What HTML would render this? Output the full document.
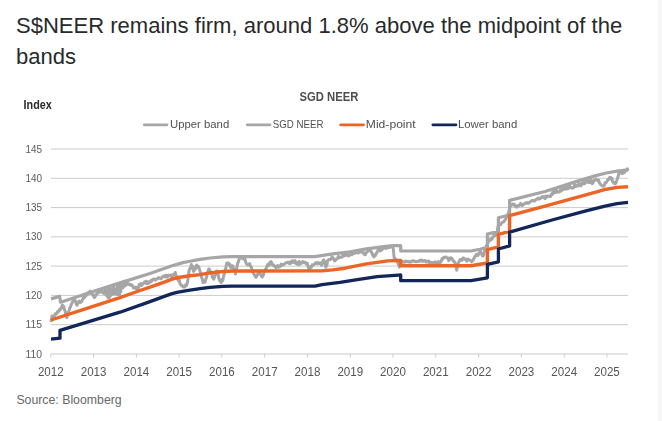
<!DOCTYPE html>
<html><head><meta charset="utf-8">
<style>
html,body{margin:0;padding:0;background:#fff;}
body{width:662px;height:421px;overflow:hidden;position:relative;font-family:"Liberation Sans",sans-serif;}
.title{position:absolute;left:16px;top:10px;width:630px;font-size:22.04px;line-height:31px;color:#282a2c;letter-spacing:0px;}
.src{position:absolute;left:16.4px;top:393px;font-size:12.3px;color:#686868;}
.strip{position:absolute;left:658px;top:0;width:4px;height:421px;background:#f7f7f7;}
svg{position:absolute;left:0;top:0;filter:blur(0.4px);}
.yl{font-size:10.5px;fill:#5c5c5c;}
.xl{font-size:12px;fill:#555;}
.lg{font-size:10.3px;fill:#505050;}
.ct{font-size:12.9px;font-weight:bold;fill:#4d4d4d;}
.ix{font-size:12.4px;font-weight:bold;fill:#2a2a2a;}
</style></head><body>
<div class="title">S$NEER remains firm, around 1.8% above the midpoint of the<br>bands</div>
<div class="strip"></div>
<svg width="662" height="421" viewBox="0 0 662 421">
<line x1="51" x2="628" y1="354.0" y2="354.0" stroke="#cbcbcb" stroke-width="1"/>
<line x1="51" x2="628" y1="324.7" y2="324.7" stroke="#cbcbcb" stroke-width="1"/>
<line x1="51" x2="628" y1="295.4" y2="295.4" stroke="#cbcbcb" stroke-width="1"/>
<line x1="51" x2="628" y1="266.1" y2="266.1" stroke="#cbcbcb" stroke-width="1"/>
<line x1="51" x2="628" y1="236.9" y2="236.9" stroke="#cbcbcb" stroke-width="1"/>
<line x1="51" x2="628" y1="207.6" y2="207.6" stroke="#cbcbcb" stroke-width="1"/>
<line x1="51" x2="628" y1="178.3" y2="178.3" stroke="#cbcbcb" stroke-width="1"/>
<line x1="51" x2="628" y1="149.0" y2="149.0" stroke="#cbcbcb" stroke-width="1"/>
<line x1="50.8" x2="50.8" y1="354" y2="357.5" stroke="#cbcbcb" stroke-width="1"/>
<line x1="93.6" x2="93.6" y1="354" y2="357.5" stroke="#cbcbcb" stroke-width="1"/>
<line x1="136.4" x2="136.4" y1="354" y2="357.5" stroke="#cbcbcb" stroke-width="1"/>
<line x1="179.1" x2="179.1" y1="354" y2="357.5" stroke="#cbcbcb" stroke-width="1"/>
<line x1="221.9" x2="221.9" y1="354" y2="357.5" stroke="#cbcbcb" stroke-width="1"/>
<line x1="264.7" x2="264.7" y1="354" y2="357.5" stroke="#cbcbcb" stroke-width="1"/>
<line x1="307.5" x2="307.5" y1="354" y2="357.5" stroke="#cbcbcb" stroke-width="1"/>
<line x1="350.3" x2="350.3" y1="354" y2="357.5" stroke="#cbcbcb" stroke-width="1"/>
<line x1="393.0" x2="393.0" y1="354" y2="357.5" stroke="#cbcbcb" stroke-width="1"/>
<line x1="435.8" x2="435.8" y1="354" y2="357.5" stroke="#cbcbcb" stroke-width="1"/>
<line x1="478.6" x2="478.6" y1="354" y2="357.5" stroke="#cbcbcb" stroke-width="1"/>
<line x1="521.4" x2="521.4" y1="354" y2="357.5" stroke="#cbcbcb" stroke-width="1"/>
<line x1="564.2" x2="564.2" y1="354" y2="357.5" stroke="#cbcbcb" stroke-width="1"/>
<line x1="606.9" x2="606.9" y1="354" y2="357.5" stroke="#cbcbcb" stroke-width="1"/>

<text x="23.6" y="108.8" class="ix" textLength="28.2" lengthAdjust="spacingAndGlyphs">Index</text>
<text x="299.6" y="100.8" class="ct" textLength="58.8" lengthAdjust="spacingAndGlyphs">SGD NEER</text>
<g stroke-width="2.7" stroke-linecap="round">
<line x1="144.2" x2="167" y1="124.8" y2="124.8" stroke="#a6a6a6"/>
<line x1="247.2" x2="270" y1="124.8" y2="124.8" stroke="#a6a6a6"/>
<line x1="340.6" x2="363.6" y1="124.8" y2="124.8" stroke="#ec6426"/>
<line x1="432.8" x2="456" y1="124.8" y2="124.8" stroke="#12265a"/>
</g>
<text x="170" y="128" class="lg" textLength="59.2" lengthAdjust="spacingAndGlyphs">Upper band</text>
<text x="272.7" y="128" class="lg" textLength="50.8" lengthAdjust="spacingAndGlyphs">SGD NEER</text>
<text x="365.8" y="128" class="lg" textLength="49.9" lengthAdjust="spacingAndGlyphs">Mid-point</text>
<text x="458" y="128" class="lg" textLength="59.2" lengthAdjust="spacingAndGlyphs">Lower band</text>
<text x="25.5" y="357.5" class="yl" textLength="16.6" lengthAdjust="spacingAndGlyphs">110</text>
<text x="25.5" y="328.2" class="yl" textLength="16.6" lengthAdjust="spacingAndGlyphs">115</text>
<text x="25.5" y="298.9" class="yl" textLength="16.6" lengthAdjust="spacingAndGlyphs">120</text>
<text x="25.5" y="269.6" class="yl" textLength="16.6" lengthAdjust="spacingAndGlyphs">125</text>
<text x="25.5" y="240.4" class="yl" textLength="16.6" lengthAdjust="spacingAndGlyphs">130</text>
<text x="25.5" y="211.1" class="yl" textLength="16.6" lengthAdjust="spacingAndGlyphs">135</text>
<text x="25.5" y="181.8" class="yl" textLength="16.6" lengthAdjust="spacingAndGlyphs">140</text>
<text x="25.5" y="152.5" class="yl" textLength="16.6" lengthAdjust="spacingAndGlyphs">145</text>
<text x="50.8" y="375.9" text-anchor="middle" class="xl" textLength="25.8" lengthAdjust="spacingAndGlyphs">2012</text>
<text x="93.6" y="375.9" text-anchor="middle" class="xl" textLength="25.8" lengthAdjust="spacingAndGlyphs">2013</text>
<text x="136.4" y="375.9" text-anchor="middle" class="xl" textLength="25.8" lengthAdjust="spacingAndGlyphs">2014</text>
<text x="179.1" y="375.9" text-anchor="middle" class="xl" textLength="25.8" lengthAdjust="spacingAndGlyphs">2015</text>
<text x="221.9" y="375.9" text-anchor="middle" class="xl" textLength="25.8" lengthAdjust="spacingAndGlyphs">2016</text>
<text x="264.7" y="375.9" text-anchor="middle" class="xl" textLength="25.8" lengthAdjust="spacingAndGlyphs">2017</text>
<text x="307.5" y="375.9" text-anchor="middle" class="xl" textLength="25.8" lengthAdjust="spacingAndGlyphs">2018</text>
<text x="350.3" y="375.9" text-anchor="middle" class="xl" textLength="25.8" lengthAdjust="spacingAndGlyphs">2019</text>
<text x="393.0" y="375.9" text-anchor="middle" class="xl" textLength="25.8" lengthAdjust="spacingAndGlyphs">2020</text>
<text x="435.8" y="375.9" text-anchor="middle" class="xl" textLength="25.8" lengthAdjust="spacingAndGlyphs">2021</text>
<text x="478.6" y="375.9" text-anchor="middle" class="xl" textLength="25.8" lengthAdjust="spacingAndGlyphs">2022</text>
<text x="521.4" y="375.9" text-anchor="middle" class="xl" textLength="25.8" lengthAdjust="spacingAndGlyphs">2023</text>
<text x="564.2" y="375.9" text-anchor="middle" class="xl" textLength="25.8" lengthAdjust="spacingAndGlyphs">2024</text>
<text x="606.9" y="375.9" text-anchor="middle" class="xl" textLength="25.8" lengthAdjust="spacingAndGlyphs">2025</text>

<g fill="none" stroke-linejoin="round" stroke-linecap="butt">
<path d="M51.0,298.9 L59.6,296.4 L60.6,302.2 L96.0,290.4 L120.0,282.9 L150.0,273.5 L172.1,265.7 L182.8,262.6 L190.0,261.2 L200.0,259.4 L210.0,258.0 L223.0,256.8 L232.0,256.6 L314.6,256.6 L332.8,253.9 L350.0,251.8 L366.4,248.9 L387.8,246.2 L394.0,245.7 L400.7,245.7 L400.7,251.0 L471.0,251.0 L480.0,249.3 L487.4,247.4 L487.4,234.1 L498.4,231.4 L498.4,217.8 L509.6,215.0 L509.6,200.4 L545.0,191.5 L580.0,180.4 L595.7,175.6 L606.4,173.0 L617.1,171.1 L628.0,169.8" stroke="#a6a6a6" stroke-width="3.2"/>
<path d="M51.0,322.0 L52.0,316.0 L52.8,317.1 L53.5,318.0 L54.2,316.6 L55.0,314.0 L55.7,313.8 L56.3,314.1 L57.0,313.0 L57.7,311.5 L58.3,312.0 L59.0,311.0 L59.7,309.3 L60.3,309.8 L61.0,308.0 L61.7,307.9 L62.3,304.9 L63.0,306.0 L63.8,306.3 L64.5,310.0 L65.3,311.4 L66.0,315.8 L66.8,317.6 L67.7,314.2 L68.5,312.0 L69.2,310.2 L69.8,307.7 L70.5,307.0 L71.3,304.4 L72.2,302.6 L72.8,301.2 L73.5,300.5 L74.2,300.4 L74.8,300.0 L75.5,301.5 L76.3,304.1 L77.0,305.3 L77.7,303.9 L78.3,303.0 L79.0,301.0 L79.7,301.8 L80.5,302.4 L81.2,302.0 L82.1,300.4 L82.9,298.9 L83.6,296.8 L84.2,297.7 L84.8,297.2 L85.5,295.7 L86.1,295.8 L86.8,294.5 L87.4,294.5 L88.1,292.8 L88.7,293.5 L89.3,292.6 L90.0,291.0 L90.8,292.1 L91.6,293.7 L92.3,293.6 L93.0,295.5 L93.6,295.0 L94.3,297.6 L94.9,297.0 L95.6,295.5 L96.1,295.3 L96.6,293.7 L97.3,291.8 L97.9,293.2 L98.6,292.6 L99.3,291.7 L100.0,290.8 L100.7,292.0 L101.4,289.5 L102.1,292.3 L102.8,291.7 L103.6,293.2 L104.4,292.3 L104.6,292.2 L105.2,290.1 L105.8,295.1 L106.5,290.9 L107.1,296.2 L107.7,288.1 L108.3,298.1 L108.9,292.2 L109.6,297.2 L110.2,288.3 L110.8,295.4 L111.4,289.1 L112.0,294.5 L112.7,288.6 L113.3,293.9 L113.9,286.5 L114.5,293.2 L115.1,289.7 L115.8,293.9 L116.4,289.1 L117.0,294.2 L117.6,285.1 L118.2,294.5 L118.9,288.0 L119.5,294.7 L120.1,284.1 L120.7,291.9 L121.3,285.4 L122.0,282.8 L122.6,288.0 L123.4,287.0 L124.2,286.4 L124.9,283.9 L125.7,285.4 L126.4,284.8 L127.2,283.2 L128.0,283.7 L128.8,284.5 L129.6,284.0 L130.4,285.3 L131.2,284.8 L132.0,285.0 L132.8,286.4 L133.6,288.0 L134.4,287.7 L135.2,287.1 L136.0,288.7 L136.6,287.2 L137.3,289.4 L138.0,288.2 L138.7,287.5 L139.3,284.2 L140.0,284.9 L140.8,283.7 L141.6,285.5 L142.4,283.8 L143.2,283.9 L143.9,283.4 L144.6,281.7 L145.3,283.0 L146.1,281.2 L146.8,283.8 L147.5,283.3 L148.2,281.7 L148.9,283.1 L149.6,281.7 L150.3,282.2 L151.1,280.4 L151.8,281.2 L152.6,279.5 L153.4,279.1 L154.2,279.1 L155.0,280.1 L155.7,279.7 L156.4,279.2 L157.1,279.1 L157.9,278.0 L158.7,277.7 L159.5,277.9 L160.3,278.5 L161.1,278.8 L161.9,277.5 L162.6,276.6 L163.4,276.0 L164.1,276.4 L164.8,276.7 L165.5,275.4 L166.2,276.9 L166.8,275.4 L167.4,277.1 L168.0,275.9 L168.7,275.1 L169.4,275.3 L170.2,275.4 L171.0,276.4 L171.6,274.9 L172.1,277.5 L172.7,275.3 L173.4,274.8 L174.1,273.9 L174.8,273.7 L175.3,272.5 L175.8,275.3 L176.4,276.4 L176.9,278.0 L177.7,279.2 L178.5,280.7 L179.3,280.4 L180.1,283.9 L180.9,284.7 L181.7,286.0 L182.5,285.6 L183.3,287.1 L184.1,287.0 L184.9,286.9 L185.7,284.8 L186.5,285.5 L187.1,283.7 L187.6,281.7 L188.3,276.4 L189.2,270.0 L189.7,269.1 L190.3,267.8 L190.7,268.2 L191.3,264.6 L192.0,266.6 L192.7,266.4 L193.4,271.4 L194.1,270.6 L194.8,269.8 L195.4,269.1 L196.0,266.0 L196.8,265.0 L197.6,267.6 L198.2,266.3 L198.7,266.9 L199.5,269.3 L200.3,272.5 L200.9,273.3 L201.4,277.3 L202.2,278.6 L203.0,282.6 L203.7,280.9 L204.4,280.9 L205.1,282.1 L205.9,279.0 L206.7,276.7 L207.4,272.5 L208.0,271.4 L208.7,269.0 L209.4,269.3 L210.2,271.5 L211.0,273.0 L211.7,272.4 L212.3,277.3 L213.0,277.7 L213.7,279.1 L214.5,277.1 L215.3,274.6 L216.1,271.2 L216.9,270.9 L217.6,271.3 L218.3,275.7 L219.0,278.8 L219.8,281.0 L220.5,280.0 L221.2,282.6 L222.0,279.5 L222.8,280.5 L223.6,276.0 L224.4,273.5 L225.2,270.4 L226.0,267.1 L226.8,263.1 L227.6,263.9 L228.4,262.9 L229.2,265.0 L229.9,264.4 L230.6,267.4 L231.3,267.6 L232.1,265.8 L232.9,266.0 L233.6,268.9 L234.3,270.3 L234.9,270.0 L235.4,274.1 L236.0,269.9 L236.7,268.2 L237.2,265.4 L237.8,262.8 L238.3,262.2 L238.8,260.2 L239.6,258.4 L240.3,258.4 L241.1,256.7 L241.8,256.3 L242.5,258.4 L243.3,258.3 L244.1,259.4 L244.9,259.0 L245.7,262.1 L246.5,263.9 L247.3,264.8 L248.1,265.1 L248.9,264.3 L249.7,263.5 L250.5,266.4 L251.3,266.8 L252.1,270.1 L252.9,272.4 L253.7,273.9 L254.5,275.1 L255.3,276.6 L255.9,277.3 L256.4,277.1 L257.0,274.8 L257.7,274.9 L258.4,272.1 L259.1,273.3 L259.9,272.7 L260.7,274.9 L261.5,276.4 L262.3,277.0 L262.8,274.7 L263.3,275.4 L263.9,272.3 L264.4,271.7 L265.2,269.6 L266.0,269.5 L266.6,267.0 L267.1,266.3 L267.7,264.5 L268.4,264.7 L269.0,265.5 L269.7,262.6 L270.3,264.4 L271.1,261.6 L271.9,263.6 L272.7,265.1 L273.5,264.7 L274.3,266.2 L275.1,266.3 L275.9,267.7 L276.7,266.9 L277.4,265.6 L278.1,267.1 L278.9,265.8 L279.7,266.9 L280.5,266.3 L281.3,264.1 L282.1,265.3 L282.9,264.9 L283.7,264.2 L284.5,264.2 L285.3,263.1 L286.1,262.8 L286.9,262.6 L287.7,262.2 L288.5,263.1 L289.3,262.0 L290.1,263.6 L290.9,261.9 L291.7,262.6 L292.5,260.7 L293.3,262.0 L294.3,262.6 L295.0,260.7 L295.7,263.0 L296.4,263.7 L297.1,262.4 L297.8,264.5 L298.6,264.2 L299.3,261.5 L300.0,264.3 L300.7,263.1 L301.4,262.6 L302.1,262.9 L302.8,261.5 L303.5,262.5 L304.3,262.7 L305.0,262.1 L305.8,262.7 L306.6,264.2 L307.4,263.4 L308.2,267.4 L309.0,268.5 L309.8,269.2 L310.6,266.5 L311.4,267.4 L312.2,264.9 L313.0,265.3 L313.8,264.7 L314.6,264.2 L315.3,263.3 L316.0,262.5 L316.7,263.1 L317.5,263.8 L318.3,262.6 L319.1,262.9 L319.9,263.7 L320.7,263.2 L321.6,265.3 L322.1,261.8 L322.6,261.4 L323.2,261.2 L323.7,259.8 L324.2,260.9 L324.8,263.5 L325.3,265.8 L325.8,267.3 L326.4,265.0 L326.9,265.1 L327.4,261.0 L328.0,260.3 L328.8,259.5 L329.6,259.8 L330.4,259.6 L331.2,258.7 L332.0,256.9 L332.8,257.6 L333.3,258.7 L333.9,259.3 L334.4,260.6 L334.9,260.9 L335.5,260.4 L336.0,259.3 L336.8,259.1 L337.6,258.2 L338.4,256.2 L339.2,257.6 L340.0,257.2 L340.8,257.1 L341.6,257.3 L342.4,256.6 L343.2,254.7 L344.0,256.0 L344.8,254.8 L345.6,255.5 L346.4,254.2 L347.2,255.0 L347.9,255.1 L348.6,256.0 L349.5,254.8 L350.3,254.8 L351.1,254.1 L351.8,254.7 L352.5,254.3 L353.2,252.3 L353.9,252.1 L354.6,253.4 L355.3,251.8 L356.1,251.5 L356.8,252.6 L357.5,250.9 L358.2,253.0 L358.9,252.1 L359.6,252.5 L360.3,250.5 L361.0,251.9 L361.8,251.8 L362.6,252.6 L363.3,252.5 L364.0,254.3 L364.7,253.6 L365.3,254.8 L365.9,252.9 L366.4,252.6 L367.2,251.8 L368.0,251.0 L368.8,250.5 L369.6,250.5 L370.4,250.5 L371.2,252.1 L371.9,252.5 L372.6,255.3 L373.2,255.2 L373.9,256.9 L374.5,255.0 L375.2,255.9 L375.9,254.2 L376.6,253.2 L377.1,252.2 L377.6,251.0 L378.3,249.8 L379.0,250.0 L379.7,249.0 L380.3,251.0 L380.9,249.3 L381.6,250.0 L382.3,248.6 L383.0,248.7 L383.8,248.1 L384.6,247.8 L385.4,248.3 L386.2,248.4 L387.0,247.1 L387.8,247.3 L388.6,247.7 L389.4,247.6 L390.2,247.1 L391.0,247.0 L391.8,246.2 L392.6,246.8 L393.3,248.9 L393.8,254.3 L394.2,258.0 L394.7,257.8 L395.3,259.1 L395.8,259.4 L396.3,260.7 L396.9,261.5 L397.4,262.3 L397.9,262.7 L398.5,264.4 L399.3,267.1 L400.1,264.4 L400.6,263.4 L401.1,262.3 L401.9,261.9 L402.7,261.6 L403.5,262.0 L404.3,262.3 L404.9,262.1 L405.6,261.0 L406.2,261.4 L406.8,261.3 L407.5,261.5 L408.1,261.9 L408.8,262.1 L409.4,261.3 L410.1,262.2 L410.7,262.0 L411.3,262.0 L412.0,261.0 L412.6,261.2 L413.3,260.5 L413.9,261.2 L414.5,261.5 L415.2,261.3 L415.8,261.7 L416.5,261.6 L417.1,261.5 L417.8,261.4 L418.4,261.4 L419.0,261.0 L419.7,260.2 L420.3,261.0 L421.0,260.9 L421.6,260.0 L422.2,260.3 L422.9,261.3 L423.5,261.2 L424.2,260.4 L424.8,260.6 L425.5,260.8 L426.1,262.1 L426.7,262.0 L427.4,261.2 L428.0,261.1 L428.7,262.4 L429.3,261.4 L429.9,262.3 L430.6,262.6 L431.2,262.4 L431.9,262.7 L432.5,262.9 L433.2,262.6 L433.8,262.5 L434.4,262.9 L435.1,261.7 L435.7,262.9 L436.4,262.8 L437.0,262.4 L437.6,262.6 L438.3,261.6 L438.9,262.5 L439.6,262.3 L440.4,262.4 L441.2,261.2 L442.0,258.6 L442.8,259.1 L443.6,257.4 L444.4,257.5 L445.2,256.9 L446.0,256.9 L446.8,257.8 L447.6,258.0 L448.1,258.2 L448.7,260.7 L449.2,258.9 L449.7,259.6 L450.4,257.7 L451.1,258.0 L451.8,258.4 L452.4,259.1 L452.9,260.3 L453.5,261.2 L454.0,261.0 L454.5,262.3 L455.1,262.6 L455.6,264.4 L456.1,266.6 L456.7,270.3 L457.2,267.3 L457.8,266.0 L458.3,263.2 L458.8,261.7 L459.3,261.3 L460.0,259.5 L460.7,260.1 L461.4,260.2 L462.1,260.2 L462.8,258.1 L463.6,258.1 L464.4,259.0 L465.2,259.7 L466.0,259.2 L466.8,261.3 L467.6,260.2 L468.4,259.2 L469.2,259.9 L470.0,260.2 L470.8,261.0 L471.6,261.8 L472.4,260.6 L473.2,260.2 L474.0,258.1 L474.8,257.0 L475.6,255.6 L476.4,254.4 L477.2,255.5 L478.0,255.5 L478.8,253.1 L479.6,253.3 L480.4,251.6 L481.2,252.8 L481.9,254.6 L482.6,256.0 L483.1,256.1 L483.7,254.9 L484.2,252.4 L484.7,250.7 L485.3,248.7 L485.8,248.0 L486.6,245.3 L487.1,244.8 L487.6,243.8 L488.2,242.6 L488.7,240.6 L489.2,241.0 L489.8,239.5 L490.3,240.0 L490.8,238.7 L491.4,239.8 L491.9,238.8 L492.4,238.4 L493.0,236.7 L493.5,236.8 L494.1,235.1 L494.8,235.7 L495.5,235.2 L496.2,234.6 L496.7,234.8 L497.2,233.6 L497.9,226.9 L498.7,225.1 L499.5,225.3 L500.3,224.8 L501.1,224.2 L501.9,222.5 L502.7,222.1 L503.5,222.0 L504.3,221.0 L505.1,219.7 L505.9,218.9 L506.4,216.8 L507.0,216.7 L507.5,214.5 L508.0,214.6 L508.9,211.4 L509.6,208.2 L510.2,205.5 L510.7,206.0 L511.3,204.7 L511.8,204.4 L512.6,204.0 L513.4,205.0 L514.2,204.2 L515.0,206.0 L515.8,205.8 L516.6,207.1 L517.4,205.7 L518.2,206.0 L519.0,205.7 L519.8,205.0 L520.6,203.4 L521.4,204.4 L522.2,205.5 L523.0,205.0 L523.8,203.9 L524.6,203.9 L525.4,203.2 L526.2,202.8 L527.0,202.6 L527.8,203.4 L528.6,203.2 L529.4,202.3 L530.2,202.1 L531.0,201.2 L531.8,200.6 L532.6,200.7 L533.4,200.5 L534.2,201.2 L535.0,200.5 L535.9,199.6 L536.7,199.5 L537.5,198.6 L538.3,198.1 L539.1,199.1 L539.9,198.7 L540.7,198.0 L541.5,197.9 L542.3,196.4 L543.1,196.4 L543.9,197.5 L544.4,197.0 L545.0,198.7 L545.8,196.0 L546.6,197.1 L547.4,196.7 L548.2,196.0 L549.0,196.2 L549.8,196.6 L550.6,196.6 L551.4,194.4 L552.1,194.8 L552.8,191.9 L553.6,193.3 L554.3,191.0 L555.0,191.0 L555.7,192.5 L556.4,190.2 L557.1,192.1 L557.8,191.8 L558.5,192.1 L559.3,192.0 L560.0,190.7 L560.7,188.7 L561.4,191.0 L562.1,190.0 L562.8,188.2 L563.5,188.4 L564.3,189.3 L565.0,189.3 L565.7,186.4 L566.4,188.7 L567.1,186.1 L567.8,189.0 L568.5,188.2 L569.2,186.5 L570.0,186.6 L570.7,187.8 L571.5,187.6 L572.3,188.2 L573.1,187.8 L573.9,187.5 L574.6,184.3 L575.3,185.3 L576.0,186.4 L576.7,185.2 L577.4,185.2 L578.2,185.9 L578.9,183.6 L579.6,184.9 L580.3,185.0 L581.0,185.9 L581.7,183.3 L582.4,184.3 L583.1,183.5 L583.9,181.6 L584.6,183.8 L585.0,181.7 L585.7,180.2 L586.4,182.0 L587.1,182.3 L587.9,179.5 L588.6,182.4 L589.3,181.2 L590.0,182.5 L590.7,179.5 L591.4,182.3 L592.2,183.6 L593.0,182.8 L593.8,180.2 L594.6,180.1 L595.4,180.0 L596.2,179.1 L597.0,180.2 L597.8,180.7 L598.6,180.1 L599.4,182.8 L600.2,183.8 L601.0,184.9 L601.8,185.4 L602.6,186.0 L603.4,186.2 L604.3,185.5 L605.1,182.7 L605.9,182.8 L606.7,181.7 L607.5,180.1 L608.3,180.0 L609.1,178.0 L609.6,177.6 L610.1,177.2 L610.7,177.6 L611.2,179.1 L611.9,178.4 L612.6,181.7 L613.2,181.9 L613.9,183.3 L614.5,182.5 L615.2,183.9 L615.7,183.2 L616.2,182.3 L616.8,180.6 L617.3,179.1 L617.8,177.1 L618.4,175.9 L618.9,172.8 L619.4,173.2 L620.1,172.5 L620.8,172.1 L621.6,172.7 L622.4,173.7 L623.1,171.5 L623.7,172.6 L624.4,172.5 L625.1,171.0 L625.9,170.7 L626.7,170.5 L627.4,168.9 L628.0,171.0" stroke="#a6a6a6" stroke-width="3.0"/>
<path d="M51.0,320.0 L90.0,307.4 L120.0,297.6 L140.0,290.5 L150.0,287.2 L165.0,281.8 L172.1,279.2 L178.0,277.5 L190.0,275.7 L200.0,274.6 L210.0,272.9 L223.0,271.5 L232.0,271.0 L322.0,270.9 L332.8,269.9 L345.0,268.2 L366.4,263.9 L387.8,260.9 L398.5,260.5 L400.7,260.4 L400.7,265.7 L471.0,265.7 L480.0,264.2 L487.4,262.8 L487.4,249.6 L498.4,246.9 L498.4,234.4 L509.6,231.4 L509.6,215.7 L545.0,206.2 L585.0,195.1 L606.4,189.2 L617.1,187.4 L628.0,186.8" stroke="#ec6426" stroke-width="3.4"/>
<path d="M51.0,339.2 L60.0,338.2 L60.0,330.4 L120.0,312.2 L150.0,301.6 L165.0,296.1 L172.1,293.6 L178.0,292.1 L190.0,290.2 L200.0,288.7 L210.0,287.4 L223.0,286.3 L232.0,286.1 L315.0,286.1 L322.0,284.6 L340.0,282.4 L355.7,279.9 L377.1,276.7 L398.5,275.1 L400.7,275.0 L400.7,280.7 L471.0,280.7 L480.0,279.1 L487.4,277.8 L487.4,264.4 L498.4,261.9 L498.4,249.0 L509.6,245.9 L509.6,232.2 L552.0,220.0 L585.0,211.2 L605.0,206.1 L617.0,203.6 L628.0,202.4" stroke="#12265a" stroke-width="3.3"/>
</g>
</svg>
<div class="src">Source: Bloomberg</div>
</body></html>
